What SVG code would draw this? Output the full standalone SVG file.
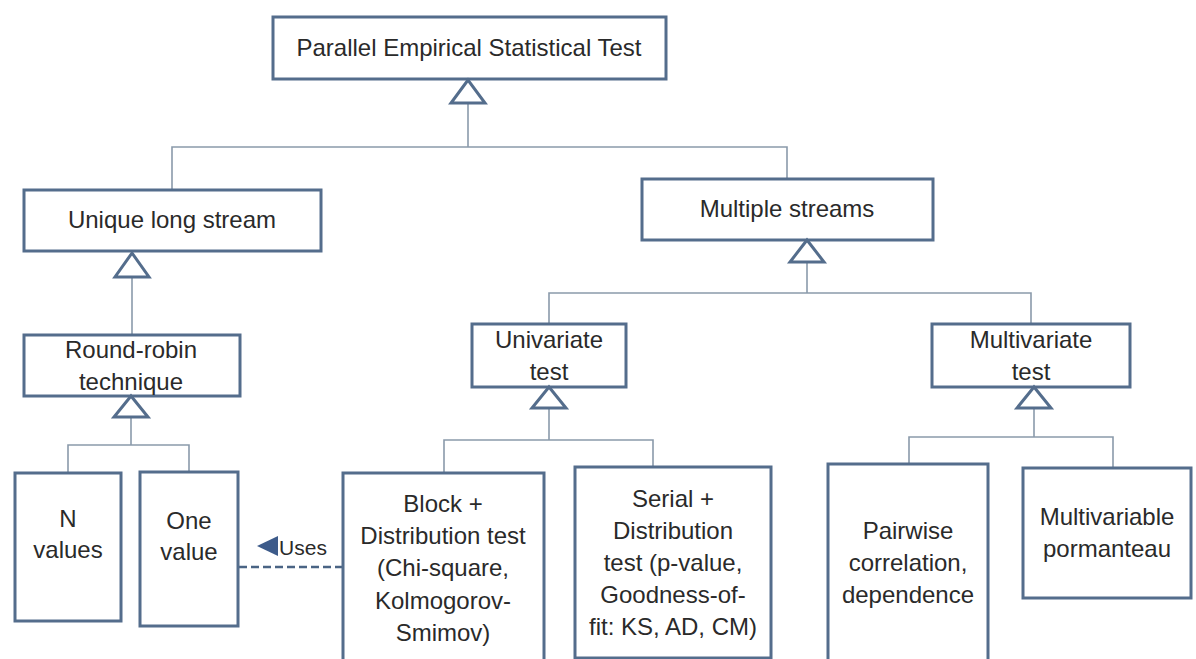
<svg xmlns="http://www.w3.org/2000/svg" width="1196" height="659" viewBox="0 0 1196 659">
<style>
.box{fill:#ffffff;stroke:#546d8c;stroke-width:3}
.tri{fill:#ffffff;stroke:#546d8c;stroke-width:3;stroke-linejoin:miter}
.ln{fill:none;stroke:#8a9aab;stroke-width:1.6}
.dash{fill:none;stroke:#4a6484;stroke-width:2.5;stroke-dasharray:8 4}
text{font-family:"Liberation Sans",Arial,sans-serif;font-size:24px;fill:#2a2a2a;text-anchor:middle}
</style>
<rect width="1196" height="659" fill="#ffffff"/>
<g id="connectors">
<polyline class="ln" points="468,103 468,147"/>
<polyline class="ln" points="172,190 172,147 787,147 787,179"/>
<polyline class="ln" points="132,277 132,335"/>
<polyline class="ln" points="131,417 131,445"/>
<polyline class="ln" points="68,473 68,445 189,445 189,472"/>
<polyline class="ln" points="807,262 807,293"/>
<polyline class="ln" points="549,324 549,293 1031,293 1031,324"/>
<polyline class="ln" points="549,408 549,440"/>
<polyline class="ln" points="444,473 444,440 653,440 653,467"/>
<polyline class="ln" points="1034,408 1034,437"/>
<polyline class="ln" points="909,464 909,437 1113,437 1113,468"/>
<line class="dash" x1="239" y1="567" x2="343" y2="567"/>
<polygon points="257,546 278,536 278,556" fill="#3d5b8a"/>
<text x="303" y="555" style="font-size:21px">Uses</text>
</g>
<g id="node-top">
<rect class="box" x="273" y="17" width="393" height="62"/>
<text x="469" y="56">Parallel Empirical Statistical Test</text>
<polygon class="tri" points="468,80 451,103 485,103"/>
</g>
<g id="node-unique">
<rect class="box" x="24" y="190" width="297" height="61"/>
<text x="172" y="228">Unique long stream</text>
<polygon class="tri" points="132,253 115,277 149,277"/>
</g>
<g id="node-multiple">
<rect class="box" x="642" y="179" width="291" height="61"/>
<text x="787" y="217">Multiple streams</text>
<polygon class="tri" points="807,240 790,262 824,262"/>
</g>
<g id="node-roundrobin">
<rect class="box" x="24" y="335" width="216" height="61"/>
<text x="131" y="358">Round-robin</text>
<text x="131" y="390">technique</text>
<polygon class="tri" points="131,396 114,417 148,417"/>
</g>
<g id="node-nvalues">
<rect class="box" x="15" y="473" width="106" height="148"/>
<text x="68" y="527">N</text>
<text x="68" y="558">values</text>
</g>
<g id="node-onevalue">
<rect class="box" x="140" y="472" width="98" height="154"/>
<text x="189" y="529">One</text>
<text x="189" y="560">value</text>
</g>
<g id="node-univariate">
<rect class="box" x="472" y="324" width="154" height="63"/>
<text x="549" y="348">Univariate</text>
<text x="549" y="380">test</text>
<polygon class="tri" points="549,387 532,408 566,408"/>
</g>
<g id="node-multivariate">
<rect class="box" x="932" y="324" width="198" height="63"/>
<text x="1031" y="348">Multivariate</text>
<text x="1031" y="380">test</text>
<polygon class="tri" points="1034,387 1017,408 1051,408"/>
</g>
<g id="node-block">
<rect class="box" x="343" y="473" width="201" height="200"/>
<text x="443" y="512">Block +</text>
<text x="443" y="544">Distribution test</text>
<text x="443" y="576">(Chi-square,</text>
<text x="443" y="609">Kolmogorov-</text>
<text x="443" y="641">Smimov)</text>
</g>
<g id="node-serial">
<rect class="box" x="575" y="467" width="196" height="191"/>
<text x="673" y="507">Serial +</text>
<text x="673" y="539">Distribution</text>
<text x="673" y="571">test (p-value,</text>
<text x="673" y="603">Goodness-of-</text>
<text x="673" y="635">fit: KS, AD, CM)</text>
</g>
<g id="node-pairwise">
<rect class="box" x="828" y="464" width="160" height="200"/>
<text x="908" y="539">Pairwise</text>
<text x="908" y="571">correlation,</text>
<text x="908" y="603">dependence</text>
</g>
<g id="node-multivariable">
<rect class="box" x="1023" y="468" width="168" height="130"/>
<text x="1107" y="525">Multivariable</text>
<text x="1107" y="557">pormanteau</text>
</g>
</svg>
